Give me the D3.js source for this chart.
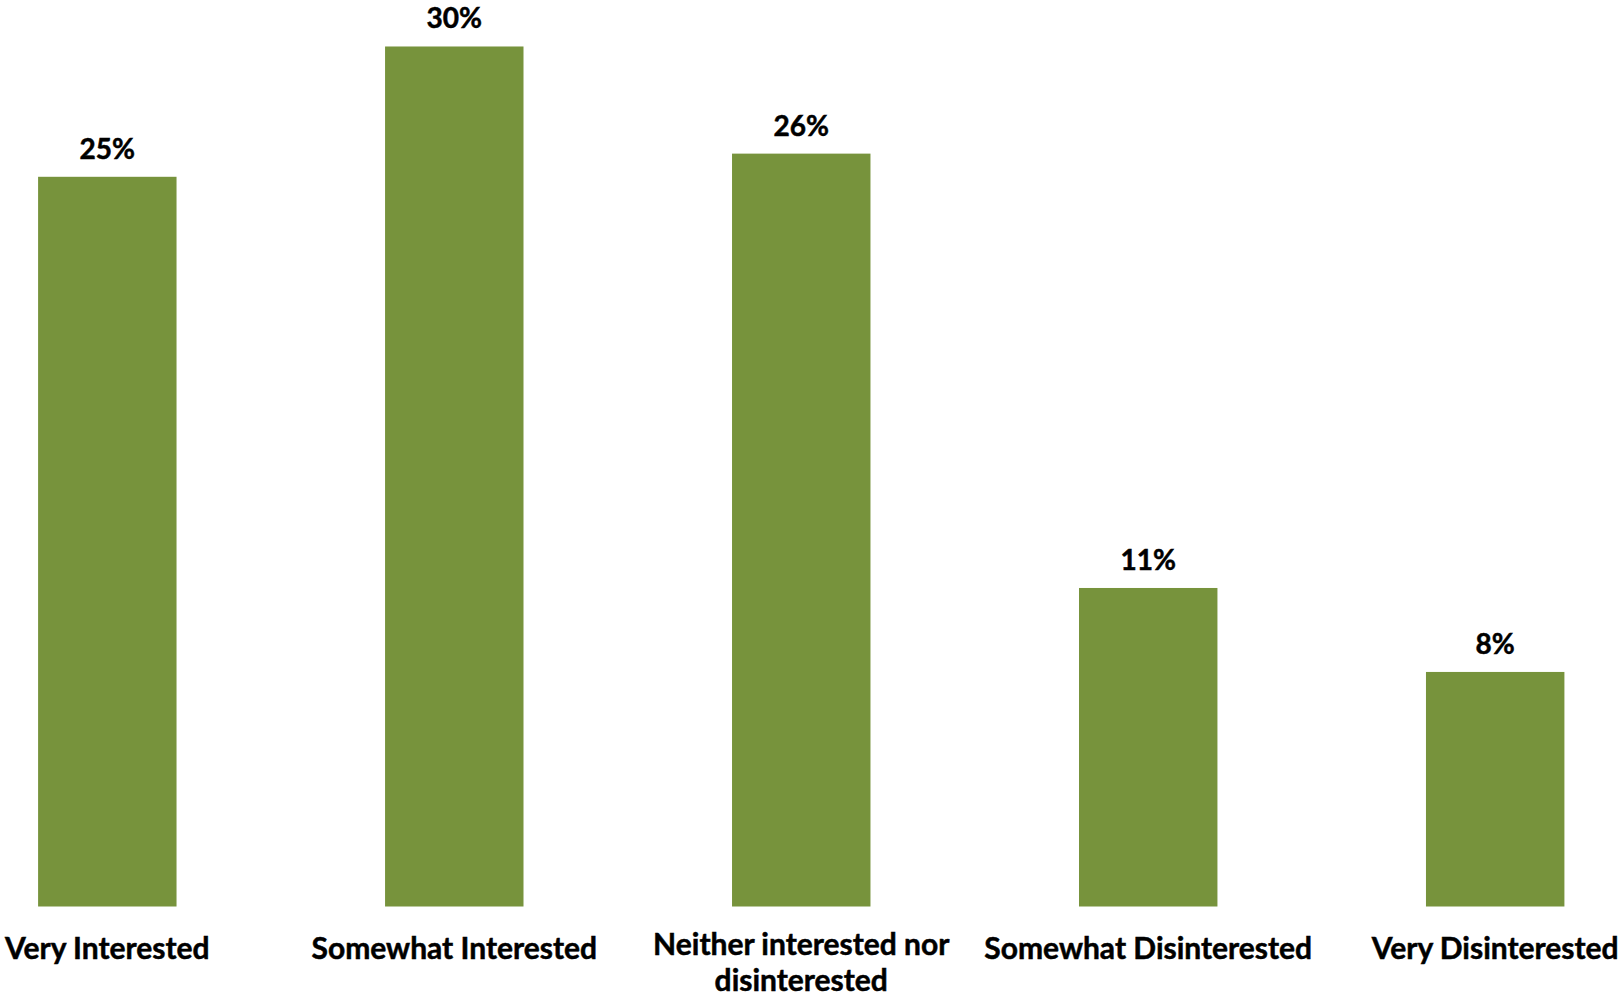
<!DOCTYPE html>
<html>
<head>
<meta charset="utf-8">
<script src="https://cdn.jsdelivr.net/npm/d3@7/dist/d3.min.js"></script>
<style>
  html, body { margin: 0; padding: 0; background: #fff; }
  svg { display: block; }
</style>
</head>
<body>
<script>
const categories = ["Very Interested", "Somewhat Interested", "Neither interested nor disinterested", "Somewhat Disinterested", "Very Disinterested"];
const categoryLines = [["Very Interested"], ["Somewhat Interested"], ["Neither interested nor", "disinterested"], ["Somewhat Disinterested"], ["Very Disinterested"]];
const values = [25.2, 29.7, 26.0, 11.0, 8.1];
const valueLabels = ["25%", "30%", "26%", "11%", "8%"];

const W = 1619, H = 998;
const svg = d3.select("body").append("svg").attr("width", W).attr("height", H);

const x = d3.scaleBand().domain(categories).range([-66, 1668.5]).paddingInner(0.601).paddingOuter(0.3);
const y = d3.scaleLinear().domain([0, 30]).range([906.5, 37.8]);

const font = "Lato, 'Open Sans', sans-serif";

svg.selectAll("rect.bar").data(values).join("rect")
  .attr("class", "bar")
  .attr("x", (d, i) => x(categories[i]))
  .attr("width", x.bandwidth())
  .attr("y", d => y(d))
  .attr("height", d => y(0) - y(d))
  .attr("fill", "#77933C");

svg.selectAll("text.val").data(values).join("text")
  .attr("class", "val")
  .attr("x", (d, i) => x(categories[i]) + x.bandwidth() / 2)
  .attr("y", d => y(d) - 18)
  .attr("text-anchor", "middle")
  .style("font-family", font).style("font-weight", 700).style("font-size", "28px")
  .attr("fill", "#000").attr("stroke", "#000").attr("stroke-width", 0.5)
  .text((d, i) => valueLabels[i]);

const cat = svg.selectAll("text.cat").data(categoryLines).join("text")
  .attr("class", "cat")
  .attr("text-anchor", "middle")
  .style("font-family", font).style("font-weight", 700).style("font-size", "30px")
  .attr("fill", "#000").attr("stroke", "#000").attr("stroke-width", 0.5);
cat.each(function(lines, i) {
  const cx = x(categories[i]) + x.bandwidth() / 2;
  const y0 = lines.length > 1 ? 955 : 959;
  d3.select(this).selectAll("tspan").data(lines).join("tspan")
    .attr("x", cx)
    .attr("y", (l, j) => y0 + j * 36)
    .text(l => l);
});
</script>
</body>
</html>
